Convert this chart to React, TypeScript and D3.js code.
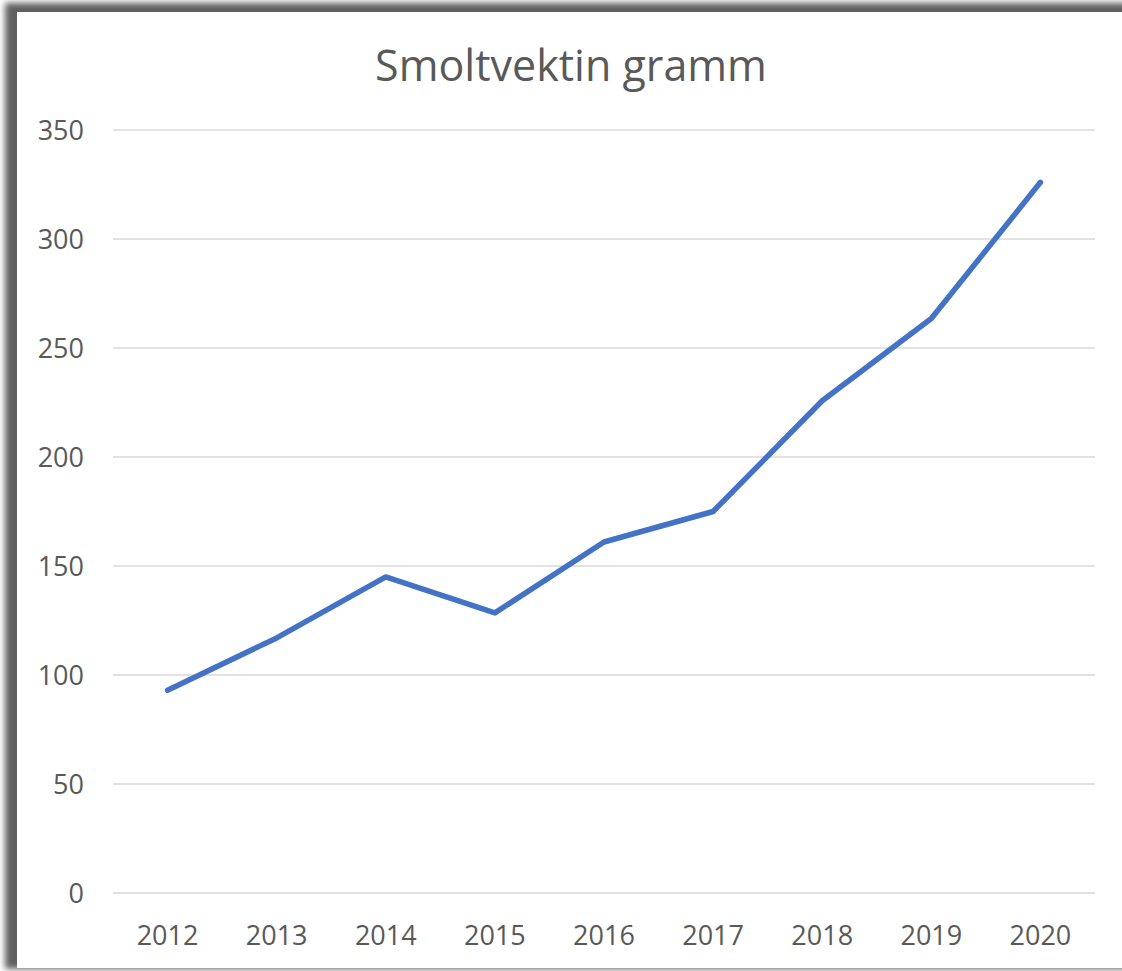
import React, { useEffect, useRef } from 'react';
import * as d3 from 'd3';

const years = ['2012', '2013', '2014', '2015', '2016', '2017', '2018', '2019', '2020'];
const weights = [93, 117, 145, 128.5, 161, 175, 225.8, 263.5, 326];
const yTicks = [0, 50, 100, 150, 200, 250, 300, 350];

const W = 1122;
const H = 971;

export default function App() {
  const svgRef = useRef<SVGSVGElement>(null);

  useEffect(() => {
    const svg = d3.select(svgRef.current);
    svg.selectAll('*').remove();

    // frame shadow
    const defs = svg.append('defs');
    defs.append('filter')
      .attr('id', 'blur')
      .attr('x', '-5%').attr('y', '-5%').attr('width', '110%').attr('height', '110%')
      .append('feGaussianBlur')
      .attr('stdDeviation', 3);

    svg.append('rect').attr('width', W).attr('height', H).attr('fill', '#ffffff');
    svg.append('rect')
      .attr('x', 5).attr('y', 3)
      .attr('width', W + 20).attr('height', H - 5)
      .attr('fill', '#5e5e5e')
      .attr('filter', 'url(#blur)');
    svg.append('rect')
      .attr('x', 17).attr('y', 12)
      .attr('width', W).attr('height', 956)
      .attr('fill', '#ffffff');

    const margin = { left: 113, right: 1095, top: 130, bottom: 893 };

    const x = d3.scaleBand<string>()
      .domain(years)
      .range([margin.left, margin.right]);

    const y = d3.scaleLinear()
      .domain([0, 350])
      .range([margin.bottom, margin.top]);

    const font = '"Open Sans", "Liberation Sans", sans-serif';

    // gridlines
    svg.append('g')
      .selectAll('line')
      .data(yTicks)
      .enter()
      .append('line')
      .attr('x1', margin.left)
      .attr('x2', margin.right)
      .attr('y1', d => y(d))
      .attr('y2', d => y(d))
      .attr('stroke', '#d9d9d9')
      .attr('stroke-width', 1.5);

    // y labels
    svg.append('g')
      .selectAll('text')
      .data(yTicks)
      .enter()
      .append('text')
      .attr('x', 84)
      .attr('y', d => y(d) + 10)
      .attr('text-anchor', 'end')
      .style('font-family', font)
      .style('font-size', '27px')
      .style('fill', '#595959')
      .text(d => d);

    // x labels
    svg.append('g')
      .selectAll('text')
      .data(years)
      .enter()
      .append('text')
      .attr('x', d => (x(d) as number) + x.bandwidth() / 2)
      .attr('y', 945)
      .attr('text-anchor', 'middle')
      .style('font-family', font)
      .style('font-size', '27px')
      .style('fill', '#595959')
      .text(d => d);

    // line
    const line = d3.line<number>()
      .x((_, i) => (x(years[i]) as number) + x.bandwidth() / 2)
      .y(d => y(d));

    svg.append('path')
      .datum(weights)
      .attr('d', line)
      .attr('fill', 'none')
      .attr('stroke', '#4472c4')
      .attr('stroke-width', 5.5)
      .attr('stroke-linecap', 'round')
      .attr('stroke-linejoin', 'round');

    // title
    svg.append('text')
      .attr('x', 571)
      .attr('y', 81)
      .attr('text-anchor', 'middle')
      .style('font-family', font)
      .style('font-size', '43px')
      .style('fill', '#595959')
      .text('Smoltvektin gramm');
  }, []);

  return (
    <div style={{ position: 'absolute', left: 0, top: 0 }}>
      <svg ref={svgRef} width={W} height={H} style={{ display: 'block' }} />
    </div>
  );
}
